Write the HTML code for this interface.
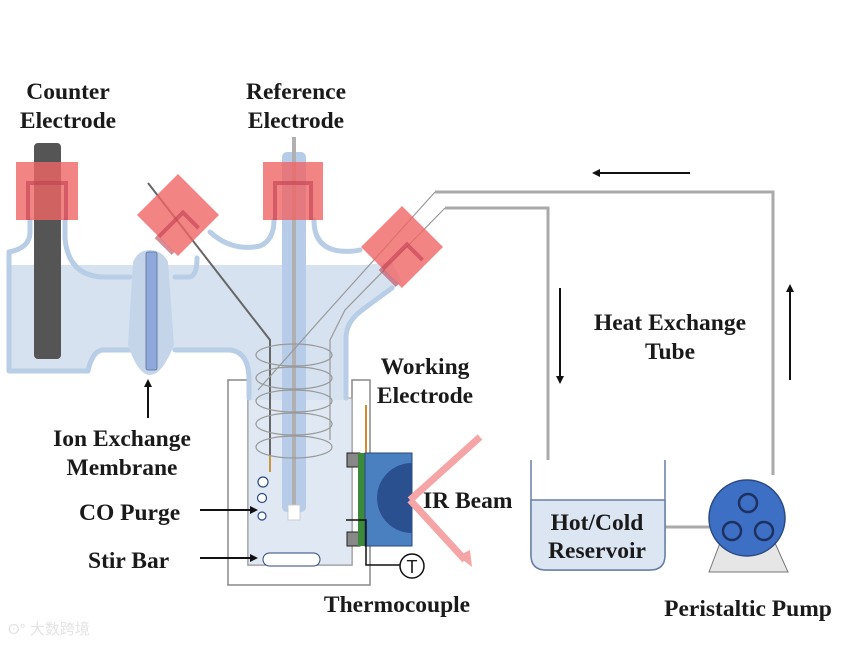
<!DOCTYPE html>
<html><head><meta charset="utf-8"><style>
html,body{margin:0;padding:0;background:#fff;}
svg{display:block;}
text{font-family:"Liberation Serif",serif;font-weight:bold;font-size:23.5px;fill:#1a1a1a;}
</style></head><body>
<svg width="842" height="645" viewBox="0 0 842 645" xmlns="http://www.w3.org/2000/svg">
<defs>
<marker id="ah" markerWidth="8" markerHeight="8" refX="6" refY="4" orient="auto" markerUnits="userSpaceOnUse"><path d="M0,0 L8,4 L0,8 z" fill="#111"/></marker>
</defs>
<path d="M228,380 H248 V398 H248 V565 H352 V398 H352 V380 H370 V585 H228 Z" fill="#fff" stroke="#888" stroke-width="1.5"/>
<rect x="248" y="398" width="104" height="167" fill="#dfe8f3" stroke="#999" stroke-width="1"/>
<path d="M8,265 H365 L392,262 L402,282 L360,315 Q345,325 345,340 V400 H250 V372 Q248,350 230,350 H102 Q92,352 90,372 H8 Z" fill="#d6e2f0"/>
<g fill="none" stroke="#b8cde6" stroke-width="5" stroke-linejoin="round" stroke-linecap="round">
<path d="M30,220 V232 Q30,248 9,252 V371 H88 Q92,352 102,350 H130"/>
<path d="M65,220 V238 Q68,275 102,277 H130"/>
<path d="M175,277 H190 Q197,275 197,258"/>
<path d="M175,350 H230 Q249,352 249,380 V398"/>
<path d="M210,232 Q232,252 260,246 Q274,240 274,220"/>
<path d="M314,220 Q314,248 340,251 Q352,252 360,250"/>
<path d="M346,398 V338 Q346,322 362,310 L392,288"/>
</g>
<path d="M133,262 Q138,250 150,250 Q162,250 168,262 L174,345 Q162,375 150,375 Q138,375 128,345 Z" fill="#c4d5ea"/>
<rect x="146" y="252" width="11" height="118" rx="2" fill="#8fa8dc" stroke="#6a7fa6"/>
<rect x="34" y="143" width="27" height="216" rx="4" fill="#555"/>
<rect x="282" y="152" width="24" height="360" rx="5" fill="#b6cce8"/>
<line x1="294" y1="137" x2="294" y2="505" stroke="#b0b0b0" stroke-width="4"/>
<rect x="288" y="505" width="12" height="15" fill="#fff" stroke="#ccc"/>
<polyline points="148,183 270,340 270,470" fill="none" stroke="#666" stroke-width="2"/>
<line x1="270" y1="455" x2="270" y2="472" stroke="#c8963c" stroke-width="2"/>
<polyline points="435,192 320,320 258,390" fill="none" stroke="#999" stroke-width="1.2"/>
<polyline points="445,208 345,310 330,340 330,440" fill="none" stroke="#999" stroke-width="1.2"/>
<g fill="none" stroke="#999" stroke-width="1.2">
<ellipse cx="294" cy="355" rx="38" ry="11"/><ellipse cx="294" cy="378" rx="38" ry="11"/>
<ellipse cx="294" cy="401" rx="38" ry="11"/><ellipse cx="294" cy="424" rx="38" ry="11"/>
<ellipse cx="294" cy="447" rx="38" ry="11"/>
</g>
<g fill="#f06565" fill-opacity="0.8">
<rect x="16" y="162" width="62" height="58"/>
<rect x="263" y="162" width="60" height="58"/>
<rect x="149" y="186" width="58" height="58" transform="rotate(-45 178 215)"/>
<rect x="373" y="218" width="58" height="58" transform="rotate(-45 402 247)"/>
</g>
<g fill="none" stroke="#c04050" stroke-opacity="0.6" stroke-width="4">
<path d="M28,220 V183 H66 V220"/><path d="M275,220 V183 H311 V220"/>
<path d="M160,244 V222 H196 V244" transform="rotate(-45 178 233)"/>
<path d="M384,276 V254 H420 V276" transform="rotate(-45 402 265)"/>
</g>
<g fill="#fff" stroke="#2a4a80" stroke-width="1.2"><circle cx="263" cy="482" r="5"/><circle cx="262" cy="498" r="4.5"/><circle cx="262" cy="516" r="4"/></g>
<rect x="263" y="553" width="57" height="13" rx="6.5" fill="#fff" stroke="#2a4a80"/>
<line x1="366" y1="405" x2="366" y2="453" stroke="#d08a30" stroke-width="2"/>
<rect x="347" y="453" width="13" height="14" fill="#888" stroke="#222"/>
<rect x="347" y="532" width="13" height="14" fill="#888" stroke="#222"/>
<rect x="358" y="453" width="7" height="93" fill="#3a8a3a"/>
<rect x="365" y="453" width="47" height="93" fill="#4a7fc0" stroke="#2a4a80"/>
<path d="M412,463 A45,45 0 0 0 412,533 Z" fill="#1e3f73" opacity="0.85"/>
<path d="M412,463 A35,35 0 0 0 412,533" fill="#2a5090"/>
<g stroke="#f5a5a5" stroke-width="7"><line x1="410" y1="500" x2="480" y2="437"/><line x1="410" y1="500" x2="465" y2="560"/></g>
<polygon points="458,556 472,567 470,550" fill="#f5a5a5"/>
<polyline points="346,520 366,520 366,565 400,565" fill="none" stroke="#111" stroke-width="1.5"/>
<circle cx="412" cy="566" r="12" fill="#fff" stroke="#111" stroke-width="1.5"/>
<text x="412" y="573" text-anchor="middle" style="font-weight:normal;font-family:'Liberation Sans',sans-serif;font-size:18px">T</text>
<g fill="none" stroke="#aaa" stroke-width="3">
<polyline points="435,192 773,192 773,475"/>
<polyline points="445,208 548,208 548,478"/>
<line x1="665" y1="527" x2="710" y2="527"/>
</g>
<path d="M531,460 V555 Q531,570 546,570 H650 Q665,570 665,555 V460" fill="#fff" stroke="#6a7fa6" stroke-width="1.5"/>
<path d="M531,500 H665 V555 Q665,570 650,570 H546 Q531,570 531,555 Z" fill="#dce6f2" stroke="#6a7fa6" stroke-width="1.5"/>
<polygon points="720,543 775,543 788,572 709,572" fill="#e6e6e6" stroke="#777"/>
<circle cx="747" cy="518" r="38" fill="#3d6fc4" stroke="#2a4a80" stroke-width="1.5"/>
<g fill="none" stroke="#1e3060" stroke-width="2.5"><circle cx="748" cy="503" r="9"/><circle cx="732" cy="531" r="9"/><circle cx="764" cy="531" r="9"/></g>
<g stroke="#111" stroke-width="2" marker-end="url(#ah)">
<line x1="690" y1="173" x2="594" y2="173"/>
<line x1="560" y1="288" x2="560" y2="382"/>
<line x1="790" y1="380" x2="790" y2="286"/>
<line x1="148" y1="418" x2="148" y2="381"/>
<line x1="200" y1="510" x2="256" y2="510"/>
<line x1="200" y1="558" x2="256" y2="558"/>
</g>
<g text-anchor="middle">
<text x="68" y="99">Counter</text><text x="68" y="128">Electrode</text>
<text x="296" y="99">Reference</text><text x="296" y="128">Electrode</text>
<text x="425" y="374">Working</text><text x="425" y="403">Electrode</text>
<text x="122" y="446">Ion Exchange</text><text x="122" y="475">Membrane</text>
<text x="670" y="330">Heat Exchange</text><text x="670" y="359">Tube</text>
<text x="597" y="530">Hot/Cold</text><text x="597" y="558">Reservoir</text>
<text x="397" y="612">Thermocouple</text>
<text x="748" y="616">Peristaltic Pump</text>
</g>
<text x="79" y="520">CO Purge</text>
<text x="88" y="568">Stir Bar</text>
<text x="423" y="508">IR Beam</text>
<text x="8" y="634" style="font-family:'Liberation Sans','Noto Sans CJK SC',sans-serif;font-size:15px;fill:#e4e4e4;font-weight:normal">ʘ° 大数跨境</text>
</svg>
</body></html>
